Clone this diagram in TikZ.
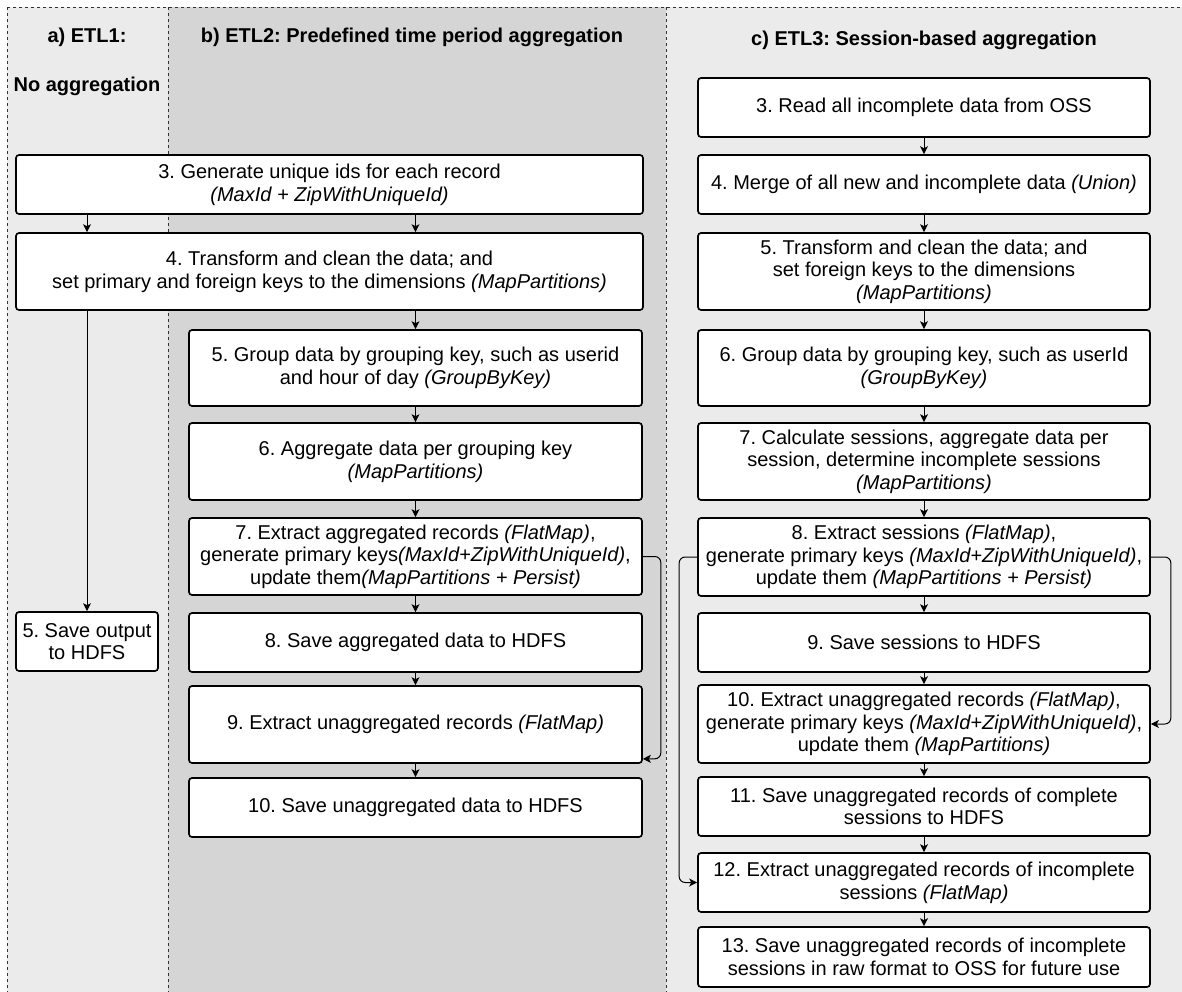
\documentclass[tikz,border=0pt]{standalone}
\usepackage{fontspec}
\setmainfont{Liberation Sans}
\usetikzlibrary{arrows.meta,calc}
\definecolor{panelLight}{HTML}{EBEBEB}
\definecolor{panelDark}{HTML}{D5D5D5}
\definecolor{dividerGray}{HTML}{333333}
\frenchspacing

\tikzset{
  box/.style={draw=black, fill=white, line width=1.25pt, rounded corners=2.25pt,
              inner sep=0pt, align=center, font=\fontsize{15}{17}\selectfont},
  arr/.style={draw=black, line width=0.75pt, -{Stealth[length=6pt,width=6pt,inset=1.5pt]}},
  looparr/.style={arr, rounded corners=4.5pt},
  divider/.style={draw=dividerGray, line width=0.75pt, dash pattern=on 2.25pt off 2.25pt},
  title/.style={font=\fontsize{15}{17}\selectfont\bfseries, inner sep=0pt},
}

% a step box given by its corners (in pixel units): name, x1, y1, x2, y2, text
\newcommand\flowbox[6]{%
  \pgfmathsetmacro\flowW{(#4-#2)*0.75}%
  \pgfmathsetmacro\flowH{(#5-#3)*0.75}%
  \node[box, minimum width=\flowW pt, minimum height=\flowH pt] (#1)
    at ({(#2+#4)/2},{(#3+#5)/2}) {#6};%
}

\begin{document}
\begin{tikzpicture}[x=0.75pt, y=-0.75pt]
\useasboundingbox (0,0) rectangle (1182,992);

% column backgrounds
\fill[panelLight] (7,7) rectangle (168,992);
\fill[panelDark]  (168,7) rectangle (666,992);
\fill[panelLight] (666,7) rectangle (1182,992);

% dashed column borders
\draw[divider] (7,7) -- (1182,7);
\draw[divider] (7,7) -- (7,992);
\draw[divider] (168,7) -- (168,992);
\draw[divider] (666,7) -- (666,992);

% column titles
\node[title] (ta1) at (87,37) {a) ETL1:};
\node[title] (ta2) at (87,86) {No aggregation};
\node[title] (tb)  at (412,37) {b) ETL2: Predefined time period aggregation};
\node[title] (tc)  at (924,40) {c) ETL3: Session-based aggregation};

% shared steps
\flowbox{s3}{16}{155}{643}{214}{3. Generate unique ids for each record\\\textit{(MaxId + ZipWithUniqueId)}}
\flowbox{s4}{16}{233}{643}{310}{4. Transform and clean the data; and\\set primary and foreign keys to the dimensions \textit{(MapPartitions)}}

% ETL1
\flowbox{a5}{16}{612}{158}{671}{5. Save output\\to HDFS}

% ETL2
\flowbox{b5}{189}{330}{642}{406}{5. Group data by grouping key, such as userid\\and hour of day \textit{(GroupByKey)}}
\flowbox{b6}{189}{423}{642}{500}{6. Aggregate data per grouping key\\\textit{(MapPartitions)}}
\flowbox{b7}{189}{518}{642}{595}{7. Extract aggregated records \textit{(FlatMap)},\\generate primary keys\textit{(MaxId+ZipWithUniqueId)},\\update them\textit{(MapPartitions + Persist)}}
\flowbox{b8}{189}{613}{642}{672}{8. Save aggregated data to HDFS}
\flowbox{b9}{189}{686}{642}{763}{9. Extract unaggregated records \textit{(FlatMap)}}
\flowbox{b10}{189}{778}{642}{837}{10. Save unaggregated data to HDFS}

% ETL3
\flowbox{c3}{698}{78}{1150}{137}{3. Read all incomplete data from OSS}
\flowbox{c4}{698}{155}{1150}{214}{4. Merge of all new and incomplete data \textit{(Union)}}
\flowbox{c5}{698}{233}{1150}{310}{5. Transform and clean the data; and\\set foreign keys to the dimensions\\\textit{(MapPartitions)}}
\flowbox{c6}{698}{330}{1150}{406}{6. Group data by grouping key, such as userId\\\textit{(GroupByKey)}}
\flowbox{c7}{698}{423}{1150}{500}{7. Calculate sessions, aggregate data per\\session, determine incomplete sessions\\\textit{(MapPartitions)}}
\flowbox{c8}{698}{518}{1150}{596}{8. Extract sessions \textit{(FlatMap)},\\generate primary keys \textit{(MaxId+ZipWithUniqueId)},\\update them \textit{(MapPartitions + Persist)}}
\flowbox{c9}{698}{613}{1150}{672}{9. Save sessions to HDFS}
\flowbox{c10}{698}{685}{1150}{763}{10. Extract unaggregated records \textit{(FlatMap)},\\generate primary keys \textit{(MaxId+ZipWithUniqueId)},\\update them \textit{(MapPartitions)}}
\flowbox{c11}{698}{777}{1150}{836}{11. Save unaggregated records of complete\\sessions to HDFS}
\flowbox{c12}{698}{853}{1150}{912}{12. Extract unaggregated records of incomplete\\sessions \textit{(FlatMap)}}
\flowbox{c13}{698}{927}{1150}{987}{13. Save unaggregated records of incomplete\\sessions in raw format to OSS for future use}

% flow between the shared steps and the columns
\draw[arr] (s3.south -| a5.center) -- (s4.north -| a5.center);
\draw[arr] (s3.south -| b5.center) -- (s4.north -| b5.center);
\draw[arr] (s4.south -| a5.center) -- (a5.north);
\draw[arr] (s4.south -| b5.center) -- (b5.north);

% ETL2 chain
\foreach \u/\v in {b5/b6, b6/b7, b7/b8, b8/b9, b9/b10}
  \draw[arr] (\u.south) -- (\v.north);

% ETL3 chain
\foreach \u/\v in {c3/c4, c4/c5, c5/c6, c6/c7, c7/c8, c8/c9, c9/c10, c10/c11, c11/c12, c12/c13}
  \draw[arr] (\u.south) -- (\v.north);

% side branches
\draw[looparr] (b7.east) -- ++(18,0) |- ($(b9.south east)+(0,-5)$);
\draw[looparr] (c8.west) -- ++(-18,0) |- (c12.west);
\draw[looparr] (c8.east) -- ++(20,0) |- (c10.east);
\end{tikzpicture}
\end{document}
